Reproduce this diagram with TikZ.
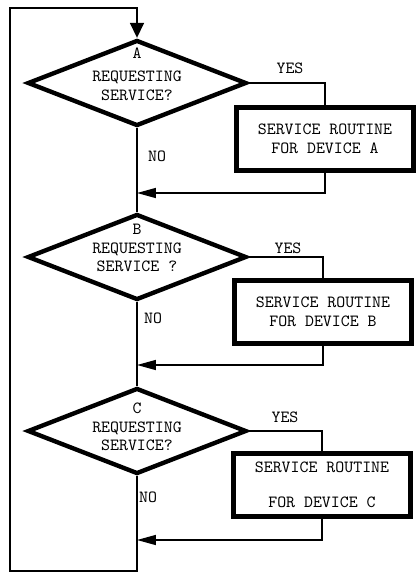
\documentclass[tikz,border=0pt]{standalone}
\usepackage{fontspec}
\usetikzlibrary{shapes.geometric,arrows.meta}

\newcommand{\flowfont}{\fontsize{9.7}{10.6}\selectfont\ttfamily}

\begin{document}
\begin{tikzpicture}[x=0.02cm,y=-0.02cm,
        decision/.style={diamond,draw,line width=2.5pt,inner sep=0pt,
            minimum width=4.38cm,minimum height=1.72cm},
        routine/.style={rectangle,draw,line width=2.5pt,align=center,
            minimum width=3.54cm,minimum height=1.26cm,font=\flowfont},
        qtext/.style={align=center,inner sep=0pt,font=\flowfont},
        lbl/.style={inner sep=0pt,font=\flowfont},
        flow/.style={line width=0.9pt},
        back/.style={-{Triangle[length=0.38cm,width=0.2cm]}}]
    \useasboundingbox (0,0) rectangle (416,579);

    % decisions
    \node[decision] (dA) at (137,83) {};
    \node[decision] (dB) at (137,257) {};
    \node[decision] (dC) at (137,431) {};
    \node[qtext] (tA) at (137,74) {A\\[2.5pt]REQUESTING\\SERVICE?};
    \node[qtext] (tB) at (137,248) {B\\REQUESTING\\SERVICE ?};
    \node[qtext] (tC) at (137,427) {C\\REQUESTING\\SERVICE?};

    % service routines
    \node[routine] (bA) at (325,139) {SERVICE ROUTINE\\FOR DEVICE A};
    \node[routine] (bB) at (323,312) {SERVICE ROUTINE\\FOR DEVICE B};
    \node[routine] (bC) at (322,485) {SERVICE ROUTINE\\[9.6pt]FOR DEVICE C};

    % joins on the main line
    \coordinate (jA) at (137,193);
    \coordinate (jB) at (137,365);
    \coordinate (jC) at (137,540);
    \coordinate (lowL) at (10,571);
    \coordinate (topR) at (137,8);

    \draw[flow] (dA.east) -| (bA.north);
    \draw[flow] (dB.east) -| (bB.north);
    \draw[flow] (dC.east) -| (bC.north);
    \draw[flow,back] (bA.south) |- (jA);
    \draw[flow,back] (bB.south) |- (jB);
    \draw[flow,back] (bC.south) |- (jC);
    \draw[flow] (dA.south) -- (dB.north);
    \draw[flow] (dB.south) -- (dC.north);
    \draw[flow,-{Triangle[length=0.3cm,width=0.28cm]}]
        (dC.south) |- (lowL) |- (topR) -- (dA.north);

    \node[lbl] (yA) at (290,68) {YES};
    \node[lbl] (yB) at (288,248) {YES};
    \node[lbl] (yC) at (285,417) {YES};
    \node[lbl] (nA) at (157,156) {NO};
    \node[lbl] (nB) at (153,318) {NO};
    \node[lbl] (nC) at (148,497) {NO};
\end{tikzpicture}
\end{document}
